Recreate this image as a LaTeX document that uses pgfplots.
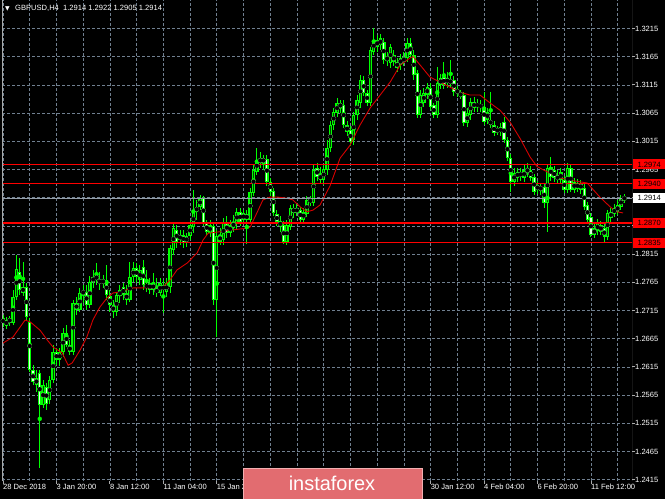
\documentclass[border=0pt]{standalone}
\usepackage{pgfplots}
\pgfplotsset{compat=1.18}
\usepackage{pgfplotstable}
\usepackage{fontspec}
\setmainfont{Liberation Sans}
\newfontfamily\symfont{DejaVu Sans}

\definecolor{gridc}{RGB}{112,128,144}
\definecolor{barc}{RGB}{0,255,0}
\definecolor{mac}{RGB}{215,0,0}
\definecolor{framec}{RGB}{170,170,170}
\definecolor{pricec}{RGB}{150,160,172}
\definecolor{wmfill}{RGB}{226,108,112}
\definecolor{wmedge}{RGB}{242,175,177}

% GBPUSD H4 candles: bar index, open, high, low, close
\pgfplotstableread{
i o h l c
0 1.2691 1.2707 1.2686 1.2702
1 1.2698 1.2703 1.2682 1.2688
2 1.2693 1.2705 1.2688 1.2702
3 1.2693 1.2751 1.2689 1.2739
4 1.2739 1.2813 1.2734 1.2789
5 1.2783 1.2808 1.2742 1.2751
6 1.2746 1.2801 1.2741 1.2757
7 1.2757 1.2764 1.2698 1.2703
8 1.2695 1.2702 1.2606 1.2609
9 1.2609 1.2618 1.2583 1.2588
10 1.2583 1.2610 1.2570 1.2595
11 1.2604 1.2610 1.2436 1.2547
12 1.2547 1.2592 1.2542 1.2583
13 1.2579 1.2587 1.2539 1.2549
14 1.2556 1.2599 1.2549 1.2592
15 1.2592 1.2654 1.2587 1.2641
16 1.2641 1.2649 1.2618 1.2627
17 1.2627 1.2649 1.2617 1.2641
18 1.2641 1.2684 1.2633 1.2675
19 1.2675 1.2689 1.2650 1.2654
20 1.2654 1.2662 1.2636 1.2641
21 1.2641 1.2734 1.2636 1.2728
22 1.2728 1.2739 1.2707 1.2716
23 1.2716 1.2755 1.2712 1.2746
24 1.2746 1.2760 1.2728 1.2748
25 1.2748 1.2760 1.2716 1.2725
26 1.2725 1.2776 1.2720 1.2766
27 1.2766 1.2787 1.2755 1.2774
28 1.2778 1.2799 1.2760 1.2769
29 1.2769 1.2783 1.2751 1.2764
30 1.2764 1.2778 1.2755 1.2769
31 1.2769 1.2796 1.2734 1.2742
32 1.2740 1.2751 1.2712 1.2725
33 1.2725 1.2734 1.2702 1.2712
34 1.2712 1.2748 1.2705 1.2742
35 1.2740 1.2760 1.2728 1.2751
36 1.2757 1.2764 1.2734 1.2742
37 1.2745 1.2760 1.2725 1.2734
38 1.2734 1.2801 1.2730 1.2774
39 1.2774 1.2801 1.2766 1.2790
40 1.2790 1.2799 1.2764 1.2774
41 1.2769 1.2796 1.2760 1.2787
42 1.2792 1.2805 1.2751 1.2760
43 1.2762 1.2787 1.2748 1.2755
44 1.2751 1.2773 1.2744 1.2764
45 1.2764 1.2782 1.2742 1.2751
46 1.2753 1.2773 1.2739 1.2746
47 1.2746 1.2773 1.2741 1.2764
48 1.2760 1.2769 1.2711 1.2751
49 1.2748 1.2773 1.2739 1.2764
50 1.2757 1.2831 1.2746 1.2826
51 1.2822 1.2868 1.2813 1.2861
52 1.2858 1.2867 1.2826 1.2837
53 1.2840 1.2858 1.2831 1.2849
54 1.2849 1.2858 1.2826 1.2835
55 1.2835 1.2853 1.2828 1.2847
56 1.2847 1.2876 1.2840 1.2867
57 1.2864 1.2929 1.2852 1.2890
58 1.2890 1.2911 1.2876 1.2899
59 1.2899 1.2920 1.2893 1.2914
60 1.2914 1.2918 1.2865 1.2870
61 1.2870 1.2876 1.2847 1.2854
62 1.2852 1.2876 1.2846 1.2867
63 1.2865 1.2872 1.2725 1.2734
64 1.2734 1.2858 1.2668 1.2847
65 1.2849 1.2862 1.2831 1.2837
66 1.2840 1.2879 1.2831 1.2872
67 1.2872 1.2883 1.2844 1.2852
68 1.2852 1.2876 1.2845 1.2867
69 1.2862 1.2884 1.2855 1.2872
70 1.2870 1.2896 1.2860 1.2890
71 1.2890 1.2896 1.2865 1.2872
72 1.2875 1.2893 1.2868 1.2888
73 1.2886 1.2893 1.2833 1.2876
74 1.2876 1.2932 1.2870 1.2925
75 1.2923 1.2973 1.2918 1.2964
76 1.2961 1.3003 1.2955 1.2982
77 1.2985 1.2996 1.2968 1.2977
78 1.2977 1.2991 1.2964 1.2985
79 1.2983 1.2991 1.2936 1.2943
80 1.2943 1.2950 1.2918 1.2925
81 1.2927 1.2932 1.2883 1.2888
82 1.2886 1.2893 1.2865 1.2872
83 1.2874 1.2883 1.2854 1.2863
84 1.2867 1.2874 1.2833 1.2837
85 1.2837 1.2876 1.2831 1.2867
86 1.2863 1.2902 1.2858 1.2897
87 1.2897 1.2904 1.2879 1.2888
88 1.2888 1.2904 1.2883 1.2897
89 1.2893 1.2899 1.2870 1.2876
90 1.2876 1.2897 1.2872 1.2890
91 1.2886 1.2918 1.2881 1.2911
92 1.2913 1.2918 1.2900 1.2906
93 1.2906 1.2973 1.2900 1.2964
94 1.2968 1.2977 1.2945 1.2952
95 1.2957 1.2970 1.2940 1.2946
96 1.2946 1.2975 1.2938 1.2966
97 1.2964 1.3017 1.2955 1.3003
98 1.3003 1.3051 1.2996 1.3044
99 1.3044 1.3074 1.3035 1.3067
100 1.3065 1.3091 1.3058 1.3083
101 1.3083 1.3088 1.3065 1.3074
102 1.3079 1.3088 1.3039 1.3044
103 1.3044 1.3051 1.3024 1.3031
104 1.3035 1.3043 1.3006 1.3014
105 1.3018 1.3067 1.3009 1.3062
106 1.3062 1.3097 1.3053 1.3088
107 1.3083 1.3133 1.3074 1.3124
108 1.3124 1.3131 1.3095 1.3101
109 1.3101 1.3106 1.3077 1.3083
110 1.3083 1.3182 1.3077 1.3177
111 1.3174 1.3216 1.3168 1.3195
112 1.3195 1.3203 1.3174 1.3182
113 1.3185 1.3205 1.3177 1.3198
114 1.3191 1.3198 1.3152 1.3159
115 1.3164 1.3173 1.3148 1.3159
116 1.3154 1.3187 1.3145 1.3182
117 1.3168 1.3177 1.3149 1.3156
118 1.3156 1.3163 1.3138 1.3145
119 1.3150 1.3170 1.3141 1.3163
120 1.3156 1.3173 1.3149 1.3164
121 1.3163 1.3198 1.3156 1.3189
122 1.3189 1.3198 1.3163 1.3168
123 1.3168 1.3177 1.3124 1.3133
124 1.3136 1.3141 1.3056 1.3062
125 1.3062 1.3106 1.3056 1.3097
126 1.3083 1.3110 1.3076 1.3101
127 1.3097 1.3118 1.3090 1.3111
128 1.3110 1.3118 1.3071 1.3076
129 1.3079 1.3083 1.3056 1.3062
130 1.3062 1.3147 1.3056 1.3118
131 1.3115 1.3134 1.3108 1.3127
132 1.3129 1.3156 1.3108 1.3115
133 1.3118 1.3138 1.3110 1.3127
134 1.3124 1.3159 1.3110 1.3118
135 1.3124 1.3131 1.3095 1.3103
136 1.3106 1.3113 1.3094 1.3101
137 1.3101 1.3106 1.3090 1.3095
138 1.3097 1.3102 1.3042 1.3047
139 1.3047 1.3074 1.3040 1.3065
140 1.3062 1.3092 1.3053 1.3085
141 1.3085 1.3094 1.3067 1.3074
142 1.3076 1.3090 1.3067 1.3083
143 1.3081 1.3088 1.3067 1.3074
144 1.3076 1.3102 1.3044 1.3049
145 1.3053 1.3074 1.3046 1.3067
146 1.3053 1.3102 1.3038 1.3044
147 1.3044 1.3051 1.3024 1.3030
148 1.3032 1.3043 1.3026 1.3037
149 1.3040 1.3047 1.3024 1.3031
150 1.3050 1.3058 1.3012 1.3017
151 1.3017 1.3023 1.2981 1.2985
152 1.2985 1.2992 1.2925 1.2943
153 1.2943 1.2968 1.2936 1.2959
154 1.2950 1.2968 1.2943 1.2961
155 1.2959 1.2968 1.2945 1.2954
156 1.2950 1.2973 1.2943 1.2964
157 1.2959 1.2977 1.2952 1.2968
158 1.2964 1.2971 1.2945 1.2950
159 1.2952 1.2957 1.2920 1.2925
160 1.2929 1.2945 1.2922 1.2937
161 1.2934 1.2940 1.2920 1.2929
162 1.2934 1.2941 1.2897 1.2906
163 1.2906 1.2975 1.2854 1.2968
164 1.2970 1.2987 1.2945 1.2952
165 1.2964 1.2971 1.2943 1.2950
166 1.2946 1.2964 1.2940 1.2955
167 1.2946 1.2968 1.2940 1.2961
168 1.2946 1.2953 1.2924 1.2929
169 1.2929 1.2977 1.2924 1.2968
170 1.2968 1.2973 1.2925 1.2929
171 1.2929 1.2950 1.2924 1.2943
172 1.2931 1.2948 1.2925 1.2941
173 1.2941 1.2946 1.2922 1.2929
174 1.2932 1.2939 1.2893 1.2898
175 1.2902 1.2907 1.2870 1.2876
176 1.2880 1.2888 1.2845 1.2849
177 1.2849 1.2868 1.2844 1.2861
178 1.2856 1.2877 1.2849 1.2870
179 1.2867 1.2874 1.2849 1.2854
180 1.2861 1.2868 1.2835 1.2845
181 1.2845 1.2893 1.2840 1.2888
182 1.2879 1.2897 1.2872 1.2890
183 1.2886 1.2904 1.2881 1.2897
184 1.2890 1.2911 1.2884 1.2902
185 1.2899 1.2920 1.2893 1.2914
186 1.2914 1.2922 1.2905 1.2914
}\candles

% moving average
\pgfplotstableread{
i v
-0.9 1.2654
3.0 1.2668
6.6 1.2698
8.1 1.2695
11.1 1.2680
13.2 1.2663
15.0 1.2650
17.7 1.2640
19.5 1.2618
20.7 1.2622
23.1 1.2645
25.1 1.2668
26.9 1.2698
29.0 1.2721
31.1 1.2737
32.9 1.2746
35.0 1.2748
38.9 1.2755
44.9 1.2755
47.9 1.2757
50.0 1.2769
52.1 1.2787
55.1 1.2799
58.1 1.2817
59.9 1.2840
61.4 1.2852
64.1 1.2854
68.9 1.2858
73.1 1.2861
74.0 1.2863
76.0 1.2888
77.8 1.2911
79.9 1.2916
82.3 1.2916
85.0 1.2914
86.8 1.2911
88.9 1.2899
91.0 1.2890
92.8 1.2893
94.9 1.2902
97.9 1.2936
100.9 1.2985
103.9 1.3008
106.9 1.3044
109.9 1.3074
112.9 1.3097
115.9 1.3120
118.9 1.3150
121.9 1.3163
122.8 1.3165
124.9 1.3150
127.8 1.3129
130.8 1.3120
133.8 1.3111
136.8 1.3102
139.8 1.3097
142.8 1.3097
145.8 1.3083
148.8 1.3070
151.8 1.3049
154.8 1.3020
157.8 1.2987
159.9 1.2970
162.9 1.2961
166.8 1.2950
169.8 1.2946
174.9 1.2941
178.7 1.2916
181.7 1.2899
183.8 1.2890
185.6 1.2888
}\mavg

\begin{document}
\begin{tikzpicture}
\fill[black] (0,0) rectangle (665bp,499bp);
\useasboundingbox (0,0) rectangle (665bp,499bp);
\begin{axis}[
  at={(2bp,18bp)}, anchor=south west,
  scale only axis, width=630bp, height=481bp,
  xmin=-0.3, xmax=188.3, ymin=1.24127, ymax=1.32655,
  axis line style={draw=none},
  xtick={0,16,32,48,64,80,96,112,128,144,160,176},
  xticklabels={28 Dec 2018,3 Jan 20:00,8 Jan 12:00,11 Jan 04:00,15 Jan 20:00,,,,30 Jan 12:00,4 Feb 04:00,6 Feb 20:00,11 Feb 12:00},
  minor xtick={8,24,40,56,72,88,104,120,136,152,168,184},
  ytick={1.2415,1.2465,1.2515,1.2565,1.2615,1.2665,1.2715,1.2765,1.2815,1.2865,1.2915,1.2965,1.3015,1.3065,1.3115,1.3165,1.3215},
  yticklabels={1.2415,1.2465,1.2515,1.2565,1.2615,1.2665,1.2715,1.2765,1.2815,1.2865,,1.2965,1.3015,1.3065,1.3115,1.3165,1.3215},
  xtick pos=left, ytick pos=right,
  tick align=outside, major tick length=3bp, minor tick length=0pt,
  tick style={framec, line width=0.8bp},
  grid=both,
  major grid style={gridc, dash pattern=on 3bp off 2bp, line width=0.7bp},
  minor grid style={gridc, dash pattern=on 3bp off 2bp, line width=0.7bp},
  xticklabel style={anchor=north west, inner sep=0pt, text=white, font=\fontsize{7.6}{9}\selectfont},
  yticklabel style={anchor=west, inner sep=0pt, text=white, font=\fontsize{7.6}{9}\selectfont},
]
% wicks
\addplot[barc, only marks, mark=none, error bars/.cd, y dir=both, y explicit, error mark=none,
  error bar style={barc, line width=1bp}]
  table[x=i, y expr={(\thisrow{h}+\thisrow{l})/2}, y error expr={(\thisrow{h}-\thisrow{l})/2}] {\candles};
% body outlines
\addplot[barc, only marks, mark=none, error bars/.cd, y dir=both, y explicit, error mark=none,
  error bar style={barc, line width=3.4bp, line cap=butt}]
  table[x=i, y expr={(\thisrow{o}+\thisrow{c})/2}, y error expr={max(abs(\thisrow{o}-\thisrow{c})/2,0.0001)}] {\candles};
% bear bodies (pale)
\addplot[white, only marks, mark=none, error bars/.cd, y dir=both, y explicit, error mark=none,
  error bar style={color={rgb,255:red,225;green,255;blue,225}, line width=1.2bp, line cap=butt}]
  table[x=i, y expr={(\thisrow{o}+\thisrow{c})/2}, y error expr={\thisrow{o}>\thisrow{c} ? max(abs(\thisrow{o}-\thisrow{c})/2-0.00016,0) : 0}] {\candles};
% bull bodies (dark)
\addplot[black, only marks, mark=none, error bars/.cd, y dir=both, y explicit, error mark=none,
  error bar style={color={rgb,255:red,0;green,70;blue,0}, line width=0.9bp, line cap=butt}]
  table[x=i, y expr={(\thisrow{o}+\thisrow{c})/2}, y error expr={\thisrow{c}>\thisrow{o} ? max(abs(\thisrow{o}-\thisrow{c})/2-0.00016,0) : 0}] {\candles};
% moving average
\addplot[mac, line width=0.9bp] table[x=i, y=v] {\mavg};
% levels
\addplot[pricec, line width=0.9bp] coordinates {(-1,1.2914) (190,1.2914)};
\addplot[red, line width=1.2bp] coordinates {(-1,1.2974) (190,1.2974)};
\addplot[red, line width=1.2bp] coordinates {(-1,1.2940) (190,1.2940)};
\addplot[red, line width=1.2bp] coordinates {(-1,1.2870) (190,1.2870)};
\addplot[red, line width=1.2bp] coordinates {(-1,1.2835) (190,1.2835)};
\coordinate (L1) at (axis cs:188.3,1.2974);
\coordinate (L2) at (axis cs:188.3,1.2940);
\coordinate (L3) at (axis cs:188.3,1.2870);
\coordinate (L4) at (axis cs:188.3,1.2835);
\coordinate (L5) at (axis cs:188.3,1.2914);
\draw[framec, line width=0.9bp] (rel axis cs:0,1) -- (rel axis cs:0,0) -- (rel axis cs:1,0) -- (rel axis cs:1,1);
\end{axis}
\foreach \n/\t in {L1/1.2974,L2/1.2940,L3/1.2870,L4/1.2835}
  \node[fill=red, text=black, anchor=west, inner sep=0pt, minimum width=32bp, minimum height=10bp,
    font=\fontsize{7.6}{9}\selectfont, xshift=1bp] at (\n) {\t};
\node[fill=white, text=black, anchor=west, inner sep=0pt, minimum width=32bp, minimum height=10bp,
  font=\fontsize{7.6}{9}\selectfont, xshift=1bp] at (L5) {1.2914};
% title
\node[anchor=base west, text=white, inner sep=0pt, font=\fontsize{6}{7}\symfont] at (5bp,488bp) {▼};
\node[anchor=base west, text=white, inner sep=0pt, font=\fontsize{7.6}{9}\selectfont] at (15bp,488bp)
  {GBPUSD,H4\ \ 1.2914 1.2922 1.2905 1.2914};
% watermark
\filldraw[fill=wmfill, draw=wmedge, line width=0.8bp] (243bp,-1bp) rectangle (422bp,31bp);
\node[anchor=base, text=white, inner sep=0pt, font=\fontsize{20}{22}\selectfont] at (332bp,9bp) {instaforex};
\end{tikzpicture}
\end{document}
